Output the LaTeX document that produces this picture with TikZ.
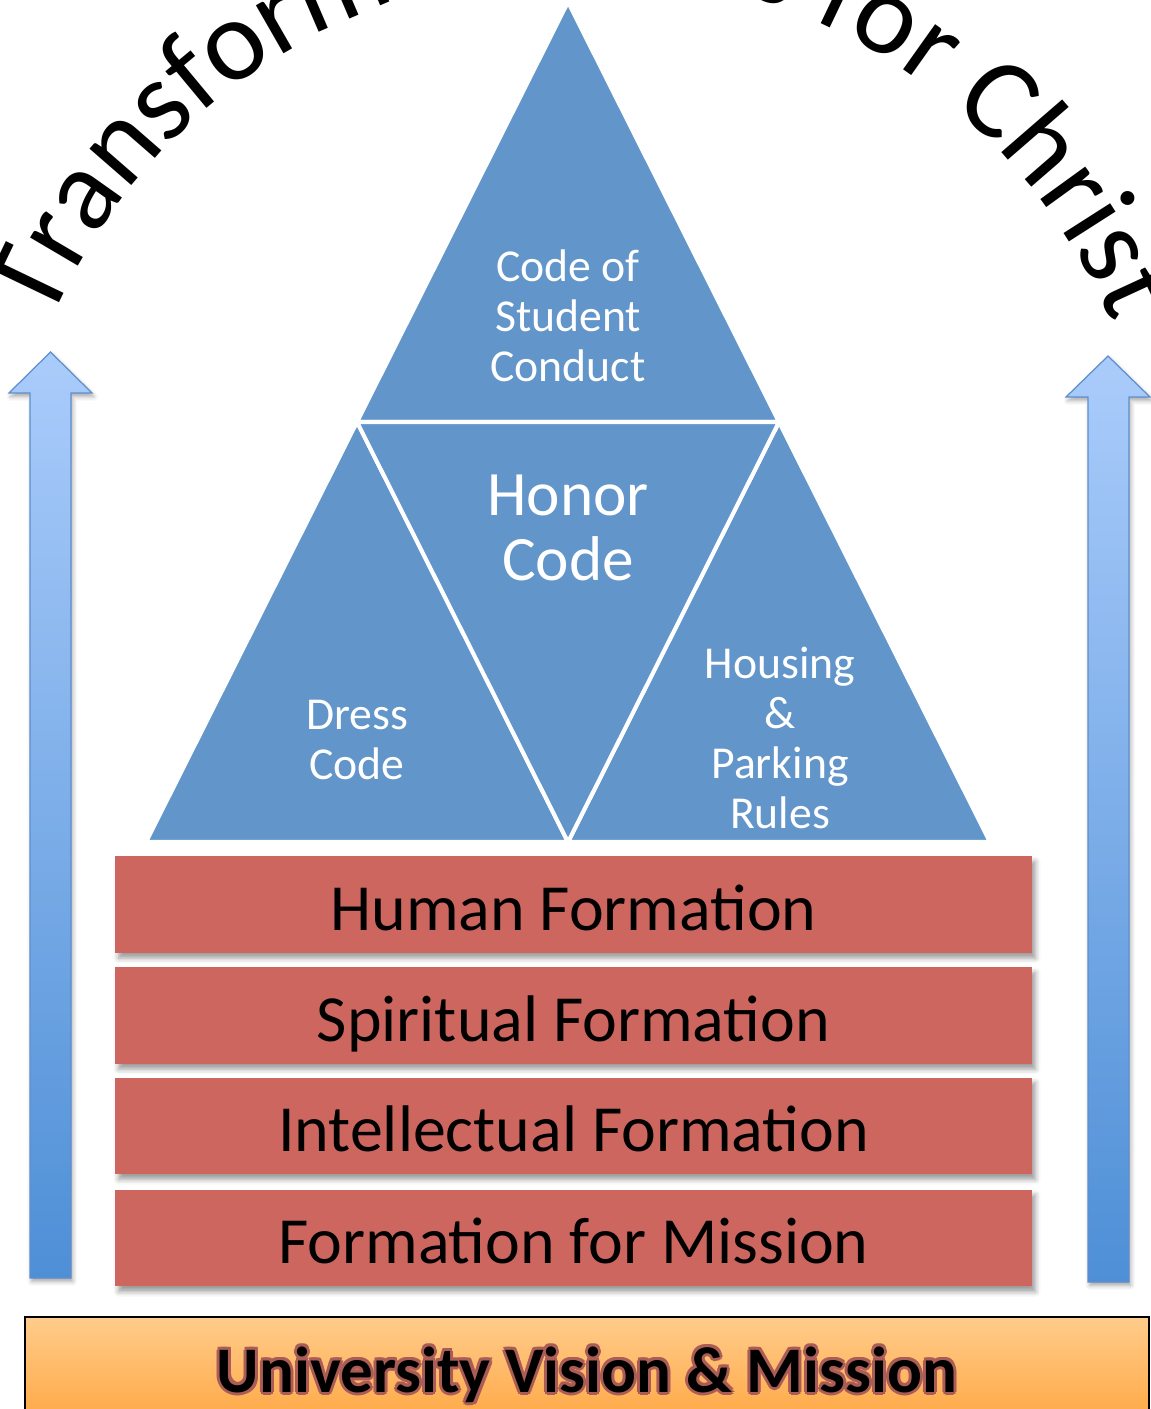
\documentclass[tikz,border=0pt]{standalone}
\usepackage{fontspec}
\setmainfont{Carlito}
\usetikzlibrary{positioning,calc,decorations.text,shadows.blur}
\definecolor{PyrBlue}{RGB}{98,149,201}
\definecolor{RowRed}{RGB}{205,102,95}
\definecolor{ArrowTop}{RGB}{170,204,251}
\definecolor{ArrowBot}{RGB}{78,143,214}
\definecolor{ArrowEdge}{RGB}{94,142,205}
\definecolor{BaseTop}{RGB}{255,204,140}
\definecolor{BaseBot}{RGB}{255,158,48}
\definecolor{GlowRed}{RGB}{172,92,86}
\newcommand\arcfont{\fontsize{66}{72}\selectfont}

\begin{document}
\begin{tikzpicture}[
    x=0.02cm, y=-0.02cm,
    every node/.style={inner sep=0pt, align=center},
    piece/.style={fill=PyrBlue, draw=white, line width=2.3pt, line join=round},
    tritext/.style={text=white, font=\fontsize{26}{28.3}\selectfont},
    formrow/.style={fill=RowRed, minimum width=18.34cm, minimum height=1.93cm,
        font=\fontsize{37.5}{40}\selectfont, text height=29.5pt, text depth=0pt,
        blur shadow={shadow xshift=2pt, shadow yshift=-3pt, shadow blur radius=3pt, shadow opacity=40}},
    uparrow/.style={top color=ArrowTop, bottom color=ArrowBot, draw=ArrowEdge, line width=0.7pt,
        blur shadow={shadow xshift=1pt, shadow yshift=-2pt, shadow blur radius=2.5pt, shadow opacity=35}},
    visiontext/.style={anchor=base, font=\fontsize{37}{40}\selectfont\bfseries},
]
\useasboundingbox (0,0) rectangle (1151,1409);
\clip (0,0) rectangle (1151,1409);

% title bent over the top
\path[decorate, decoration={text along path, text align=center,
        text={|\arcfont|Transforming Lives for Christ}}]
    (581,547) ++(180:576) arc[start angle=180, end angle=360, radius=576];

% pyramid of codes
\coordinate (apex) at (568,2);
\coordinate (bl) at (146,842);
\coordinate (br) at (990,842);
\coordinate (ml) at ($(apex)!0.5!(bl)$);
\coordinate (mr) at ($(apex)!0.5!(br)$);
\coordinate (mb) at ($(bl)!0.5!(br)$);
\draw[piece] (apex) -- (ml) -- (mr) -- cycle;
\draw[piece] (ml) -- (bl) -- (mb) -- cycle;
\draw[piece] (mr) -- (mb) -- (br) -- cycle;
\draw[piece] (ml) -- (mr) -- (mb) -- cycle;

\node[tritext] (conduct) at (568,316) {Code of\\Student\\Conduct};
\node[tritext, font=\fontsize{36}{37}\selectfont] (honor) at (568,528) {Honor\\Code};
\node[tritext] (dress) at (357,740) {Dress\\Code};
\node[tritext] (housing) at (780,738) {Housing\\\&\\Parking\\Rules};

% the four formations
\node[formrow] (human) at (573.5,904.5) {Human Formation};
\node[formrow, below=0.28cm of human] (spiritual) {Spiritual Formation};
\node[formrow, below=0.26cm of spiritual] (intellectual) {Intellectual Formation};
\node[formrow, below=0.30cm of intellectual] (mission) {Formation for Mission};

% side arrows
\draw[uparrow] (30,1278) -- (30,393) -- (9,393) -- (50.5,352) -- (92,393)
    -- (71,393) -- (71,1278) -- cycle;
\draw[uparrow] (1088,1282) -- (1088,397) -- (1066,397) -- (1108,356) -- (1150,397)
    -- (1129,397) -- (1129,1282) -- cycle;

% foundation
\draw[top color=BaseTop, bottom color=BaseBot, draw=black, line width=0.8pt]
    (25,1317) rectangle (1149,1450);
\foreach \a in {0,45,...,315}
    \node[visiontext, text=GlowRed] (glow-\a) at ($(587,1392)+(\a:3)$) {University Vision \& Mission};
\node[visiontext] (vision) at (587,1392) {University Vision \& Mission};
\end{tikzpicture}
\end{document}
